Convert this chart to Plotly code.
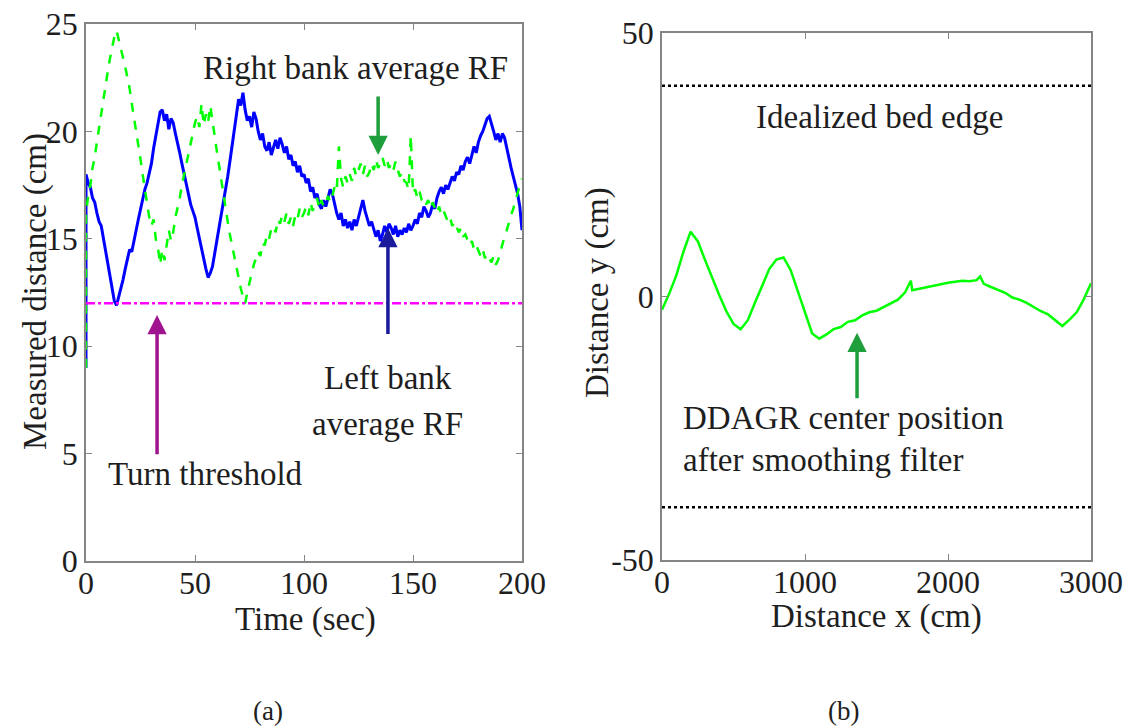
import plotly.graph_objects as go

# ---------------- Data: panel (a) ----------------
time_sec = [0] + list(range(0, 201))
left_bank_rf = [9.0,
    18.0, 17.6, 17.4, 16.9, 16.7, 16.2, 15.8, 15.6, 15.0, 14.3,
    13.8, 13.1, 12.6, 12.1, 11.9, 12.3, 12.6, 13.1, 13.6, 14.0,
    14.5, 14.4, 15.0, 15.4, 15.9, 16.4, 16.8, 17.3, 17.6, 18.1,
    18.5, 19.2, 19.8, 20.4, 20.9, 21.0, 20.5, 20.8, 20.1, 20.6,
    20.4, 19.9, 19.5, 19.0, 18.5, 18.0, 17.6, 17.0, 16.6, 16.3,
    16.0, 15.5, 15.0, 14.6, 14.1, 13.6, 13.2, 13.4, 13.7, 14.3,
    14.8, 15.3, 15.9, 16.6, 17.3, 17.9, 18.6, 19.3, 20.0, 20.8,
    21.5, 21.2, 21.8, 21.0, 20.5, 20.7, 20.2, 20.9, 20.6, 20.0,
    19.6, 19.9, 19.3, 19.1, 19.5, 18.9, 19.2, 19.6, 19.2, 19.7,
    19.4, 19.0, 19.3, 18.7, 18.9, 18.4, 18.6, 18.1, 18.4, 17.9,
    18.0, 17.6, 17.8, 17.2, 17.4, 16.9, 17.1, 16.6, 16.4, 16.8,
    16.5, 16.9, 17.3, 17.1, 16.6, 16.2, 15.9, 16.2, 15.6, 15.9,
    15.5, 15.8, 15.4, 15.9, 15.6, 16.0, 16.5, 16.8, 16.3, 15.9,
    15.6, 15.8, 15.4, 15.1, 15.4, 14.9, 15.2, 15.6, 15.3, 15.7,
    15.5, 15.2, 15.6, 15.1, 15.4, 15.2, 15.5, 15.3, 15.7, 15.4,
    15.6, 15.9, 15.7, 16.2, 16.0, 16.5, 16.3, 16.0, 16.2, 16.6,
    16.4, 16.9, 17.2, 17.4, 17.1, 17.5, 17.3, 17.6, 17.9, 17.7,
    18.1, 18.0, 18.4, 18.2, 18.6, 18.8, 18.5, 18.9, 19.3, 19.0,
    19.5, 19.8, 20.0, 20.3, 20.6, 20.7, 20.4, 20.0, 19.6, 19.9,
    19.5, 19.9, 19.7, 19.2, 18.7, 18.3, 17.9, 17.5, 17.1, 16.5,
    15.4]
right_bank_rf = [9.0,
    16.2, 17.0, 17.5, 18.3, 18.8, 19.5, 20.2, 20.9, 21.5, 22.2,
    22.8, 23.4, 24.0, 24.4, 24.7, 24.3, 23.9, 23.5, 23.0, 22.5,
    22.0, 21.3, 20.7, 20.0, 19.4, 18.7, 18.0, 17.3, 16.6, 16.0,
    15.6, 15.9, 15.0, 14.6, 13.8, 14.5, 14.0, 14.8, 15.4, 14.9,
    15.3, 16.0, 16.4, 16.9, 17.5, 18.0, 18.5, 19.0, 19.5, 19.9,
    20.4, 20.7, 20.2, 21.3, 20.3, 20.8, 20.4, 21.2, 20.6, 19.8,
    19.1, 18.4, 17.8, 17.1, 16.5, 15.8, 15.2, 14.7, 14.1, 13.6,
    13.1, 12.7, 12.3, 12.0, 12.5, 13.0, 13.4, 13.8, 14.1, 14.4,
    14.2, 14.8, 14.7, 15.2, 15.0, 15.5, 15.6, 15.3, 15.9, 15.7,
    16.1, 15.8, 16.2, 15.7, 16.0, 15.6, 16.1, 15.9, 16.4, 16.0,
    16.2, 16.5, 16.1, 16.7, 16.3, 16.6, 16.9, 16.4, 16.8, 16.5,
    16.6, 17.0, 16.7, 17.0, 17.4, 17.2, 19.3, 17.8, 17.4, 17.9,
    17.6, 18.0, 17.7, 18.3, 17.9, 18.2, 18.5, 18.0, 18.4, 17.9,
    18.1, 18.5, 18.2, 18.7, 18.3, 18.5, 18.8, 18.4, 18.7, 18.3,
    18.5, 18.2, 18.6, 18.2, 17.9, 18.1, 17.7, 17.6, 17.3, 19.8,
    17.1, 17.3, 16.9, 17.2, 16.8, 16.9, 16.6, 16.8, 16.4, 16.7,
    16.4, 16.2, 16.5, 16.1, 16.3, 16.0, 15.8, 16.0, 15.6, 15.8,
    15.5, 15.3, 15.5, 15.1, 15.2, 14.9, 14.7, 14.9, 14.5, 14.7,
    14.4, 14.2, 14.5, 14.1, 14.3, 14.1, 13.9, 14.2, 13.8, 14.0,
    14.4, 14.8, 15.1, 15.4, 15.8, 16.1, 16.4, 16.8, 17.1, 17.5,
    17.8]
turn_threshold = 12
x_ticks_a = [0, 50, 100, 150, 200]
y_ticks_a = [0, 5, 10, 15, 20, 25]

# ---------------- Data: panel (b) ----------------
distance_x = [0, 50, 100, 150, 200, 250, 300, 350, 400, 450,
              500, 550, 600, 650, 700, 750, 800, 850, 900, 950,
              1000, 1050, 1100, 1150, 1200, 1250, 1300, 1350, 1400, 1450,
              1500, 1550, 1600, 1650, 1700, 1740, 1750, 1800, 1850, 1900,
              1950, 2000, 2050, 2100, 2150, 2200, 2225, 2250, 2300, 2350,
              2400, 2450, 2500, 2550, 2600, 2650, 2700, 2750, 2800, 2850,
              2900, 2950, 3000]
center_y = [-2.5, 0.5, 4.0, 8.5, 12.3, 10.5, 7.0, 3.5, 0.3, -2.8,
            -5.2, -6.2, -4.5, -1.2, 2.0, 5.2, 7.0, 7.4, 5.0, 1.0,
            -3.0, -7.0, -8.0, -7.2, -6.2, -5.8, -4.8, -4.5, -3.6, -3.0,
            -2.7, -2.0, -1.4, -0.6, 0.8, 3.0, 1.2, 1.5, 1.8, 2.0,
            2.4, 2.6, 2.8, 3.0, 2.9, 3.1, 3.8, 2.4, 1.8, 1.3,
            0.7, -0.2, -0.6, -1.2, -2.0, -2.8, -3.4, -4.5, -5.6, -4.4,
            -3.0, -0.5, 2.5]
bed_edge = [40, -40]
x_ticks_b = [0, 1000, 2000, 3000]
y_ticks_b = [-50, 0, 50]
y_ticks_b_text = ["-50", "0", "50"]

FONT = "'Liberation Serif', 'Times New Roman', Times, serif"
TXT = "#1e1e1e"
AX = "#858585"

fig = go.Figure()
fig.add_trace(go.Scatter(x=time_sec, y=left_bank_rf, mode="lines",
                         line=dict(color="#0000ff", width=3), xaxis="x", yaxis="y"))
fig.add_trace(go.Scatter(x=time_sec, y=right_bank_rf, mode="lines",
                         line=dict(color="#00ff00", width=2.5, dash="dash"), xaxis="x", yaxis="y"))
fig.add_trace(go.Scatter(x=[0, 200], y=[turn_threshold, turn_threshold], mode="lines",
                         line=dict(color="#ff00ff", width=2.5, dash="dashdot"), xaxis="x", yaxis="y"))

fig.add_trace(go.Scatter(x=distance_x, y=center_y, mode="lines",
                         line=dict(color="#00ff00", width=2.5), xaxis="x2", yaxis="y2"))
for b in bed_edge:
    fig.add_trace(go.Scatter(x=[0, 3000], y=[b, b], mode="lines",
                             line=dict(color="#000000", width=2.5, dash="dot"), xaxis="x2", yaxis="y2"))

axis_common = dict(showline=True, mirror="ticks", linecolor=AX, linewidth=1.5,
                   ticks="inside", ticklen=6, tickcolor=AX, tickwidth=1.2,
                   showgrid=False, zeroline=False, automargin=False,
                   tickfont=dict(family=FONT, size=32, color=TXT))
x_extra = dict(ticklabelstandoff=-7)

W, H = 1131, 728
fig.update_layout(
    width=W, height=H, margin=dict(l=0, r=0, t=0, b=0, autoexpand=False),
    paper_bgcolor="white", plot_bgcolor="white", showlegend=False,
    xaxis=dict(domain=[86 / W, 522 / W], range=[0, 200], tickvals=x_ticks_a,
               anchor="y", **axis_common, **x_extra),
    yaxis=dict(domain=[1 - 561 / H, 1 - 24 / H], range=[0, 25], tickvals=y_ticks_a,
               anchor="x", **axis_common),
    xaxis2=dict(domain=[662 / W, 1091 / W], range=[0, 3000], tickvals=x_ticks_b,
                anchor="y2", **axis_common, **x_extra),
    yaxis2=dict(domain=[1 - 560 / H, 1 - 33 / H], range=[-50, 50], tickvals=y_ticks_b,
                ticktext=y_ticks_b_text, anchor="x2", **axis_common),
)

def txt(text, x, y, xref, yref, size=33, xanchor="center", angle=0):
    return dict(text=text, x=x, y=y, xref=xref, yref=yref, showarrow=False,
                xanchor=xanchor, yanchor="middle", textangle=angle,
                font=dict(family=FONT, size=size, color=TXT))

def arrow(x, y_head, y_tail, xref, yref, color):
    return dict(text="", x=x, y=y_head, ax=x, ay=y_tail, xref=xref, yref=yref,
                axref=xref, ayref=yref, showarrow=True, arrowhead=2,
                arrowsize=1.1, arrowwidth=3.5, arrowcolor=color, standoff=0)

annotations = [
    txt("Right bank average RF", 123.4, 22.95, "x", "y"),
    txt("Left bank", 138.5, 8.52, "x", "y"),
    txt("average RF", 138.5, 6.38, "x", "y"),
    txt("Turn threshold", 54.6, 4.05, "x", "y"),
    arrow(134, 18.9, 21.7, "x", "y", "#1f9e3c"),
    arrow(138.5, 15.5, 10.5, "x", "y", "#1a1a9c"),
    arrow(32.6, 11.45, 4.9, "x", "y", "#a0158f"),
    txt("Idealized bed edge", 1524, 34.0, "x2", "y2"),
    txt("DDAGR center position", 133, -23.0, "x2", "y2", xanchor="left"),
    txt("after smoothing filter", 133, -31.0, "x2", "y2", xanchor="left"),
    arrow(1364, -6.9, -19.6, "x2", "y2", "#1f9e3c"),
    # axis titles
    txt("Measured distance (cm)", 35 / W, 1 - 292 / H, "paper", "paper", angle=-90),
    txt("Time (sec)", 305 / W, 1 - 619 / H, "paper", "paper"),
    txt("Distance y (cm)", 597 / W, 1 - 293 / H, "paper", "paper", angle=-90),
    txt("Distance x (cm)", 876 / W, 1 - 616 / H, "paper", "paper"),
    # captions
    txt("(a)", 268 / W, 1 - 711 / H, "paper", "paper", size=27),
    txt("(b)", 843 / W, 1 - 711 / H, "paper", "paper", size=27),
]
fig.update_layout(annotations=annotations)

fig.write_html("out.html")
